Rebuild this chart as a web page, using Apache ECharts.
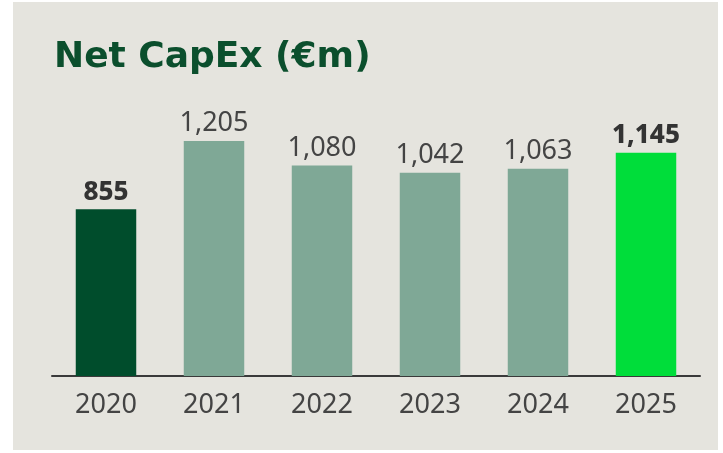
<!DOCTYPE html>
<html>
<head>
<meta charset="utf-8">
<script src="https://cdn.jsdelivr.net/npm/echarts@6/dist/echarts.min.js"></script>
<style>
  html, body { margin: 0; padding: 0; background: #fff; }
  #chart { width: 723px; height: 453px; }
</style>
</head>
<body>
<div id="chart"></div>
<script>
const years = ['2020', '2021', '2022', '2023', '2024', '2025']
const capex = [855, 1205, 1080, 1042, 1063, 1145]
const barColors = ['#004d2c', '#7fa896', '#7fa896', '#7fa896', '#7fa896', '#00dd3a']
const boldLabels = [true, false, false, false, false, true]

const myChart = echarts.init(document.getElementById('chart'))

const option = {
  backgroundColor: '#ffffff',
  animation: false,
  graphic: [
    {
      type: 'rect',
      z: -10,
      shape: { x: 13, y: 2, width: 705, height: 448 },
      style: { fill: '#e5e4de' },
    },
  ],
  title: {
    text: 'Net CapEx (€m)',
    left: 49,
    top: 35,
    textStyle: {
      fontFamily: 'DejaVu Sans',
      fontWeight: 'bold',
      fontSize: 36,
      color: '#0b4f2d',
    },
  },
  grid: {
    left: 52,
    right: 23,
    top: 103,
    bottom: 77,
  },
  xAxis: {
    type: 'category',
    data: years,
    axisTick: { show: false },
    axisLine: { lineStyle: { color: '#3a3a3a', width: 2 } },
    axisLabel: {
      margin: 16,
      fontFamily: 'Noto Sans',
      fontSize: 27,
      color: '#444',
    },
  },
  yAxis: {
    type: 'value',
    min: 0,
    max: 1400,
    show: false,
    splitLine: { show: false },
  },
  series: [
    {
      type: 'bar',
      barWidth: '56%',
      data: capex.map((v, i) => ({
        value: v,
        itemStyle: { color: barColors[i] },
        label: {
          fontWeight: boldLabels[i] ? 800 : 400,
          fontSize: boldLabels[i] ? 26 : 27,
          color: boldLabels[i] ? '#333' : '#444',
        },
      })),
      label: {
        show: true,
        position: 'top',
        distance: 4,
        fontFamily: 'Noto Sans',
        formatter: (p) => p.value.toLocaleString('en-US'),
      },
    },
  ],
}

myChart.setOption(option)
</script>
</body>
</html>
